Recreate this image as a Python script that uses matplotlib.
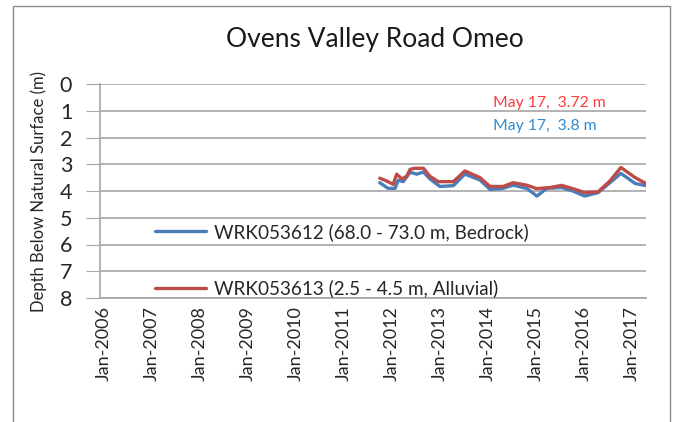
import matplotlib
matplotlib.use("Agg")
import matplotlib.pyplot as plt
import matplotlib.dates as mdates
import matplotlib.transforms as mtransforms
from matplotlib.patches import Rectangle
import pandas as pd

plt.rcParams['font.family'] = ['Lato', 'DejaVu Sans']

# data
blue_dates = ["2011-10-30", "2012-01-01", "2012-02-24", "2012-03-18", "2012-04-26",
              "2012-06-17", "2012-08-07", "2012-09-27", "2012-11-15", "2013-01-30",
              "2013-05-12", "2013-08-08", "2013-12-01", "2014-02-15", "2014-05-26",
              "2014-08-10", "2014-11-24", "2015-02-07", "2015-04-23", "2015-08-15",
              "2015-11-07", "2016-02-06", "2016-05-18", "2016-08-16", "2016-11-07",
              "2017-02-24", "2017-05-17"]
blue_depth = [3.69, 3.90, 3.90, 3.60, 3.65, 3.30, 3.37, 3.29, 3.55, 3.83,
              3.80, 3.37, 3.59, 3.94, 3.90, 3.78, 3.91, 4.19, 3.90, 3.87,
              4.00, 4.19, 4.06, 3.69, 3.34, 3.72, 3.80]

red_dates = ["2011-10-30", "2011-12-10", "2012-02-10", "2012-03-07", "2012-04-16",
             "2012-05-22", "2012-06-17", "2012-07-24", "2012-09-27", "2012-11-15",
             "2013-01-18", "2013-05-12", "2013-08-08", "2013-12-01", "2014-02-15",
             "2014-05-26", "2014-08-10", "2014-11-20", "2015-02-05", "2015-05-17",
             "2015-08-14", "2015-11-07", "2016-02-06", "2016-05-18", "2016-08-16",
             "2016-11-07", "2017-02-24", "2017-05-17"]
red_depth = [3.52, 3.60, 3.75, 3.37, 3.55, 3.45, 3.19, 3.15, 3.15, 3.45,
             3.65, 3.65, 3.25, 3.50, 3.83, 3.83, 3.69, 3.78, 3.91, 3.87,
             3.79, 3.91, 4.06, 4.03, 3.62, 3.12, 3.50, 3.72]

blue_label = "WRK053612 (68.0 - 73.0 m, Bedrock)"
red_label = "WRK053613 (2.5 - 4.5 m, Alluvial)"
blue_note = "May 17,  3.8 m"
red_note = "May 17,  3.72 m"
title = "Ovens Valley Road Omeo"
ylabel = "Depth Below Natural Surface (m)"
year_ticks = list(range(2006, 2018))

W, H = 674, 422
fig = plt.figure(figsize=(W / 100, H / 100), dpi=100)
ax = fig.add_axes([100 / W, 1 - 298 / H, 546 / W, 214 / H])

# chart border
fig.patches.append(Rectangle((13 / W, -0.05), 657 / W, 1.05 - 6 / H,
                             transform=fig.transFigure, fill=False,
                             edgecolor="#8c8c8c", lw=1.0))

bd = pd.to_datetime(blue_dates)
rd = pd.to_datetime(red_dates)
lb, = ax.plot(bd, blue_depth, color="#4a7ebb", lw=2.4, solid_capstyle="round")
lr, = ax.plot(rd, red_depth, color="#be4b48", lw=2.4, solid_capstyle="round")

ax.set_ylim(8, 0)
ax.set_yticks(range(0, 9))
ax.set_xlim(pd.Timestamp("2006-01-01"), rd[-1])
ax.set_xticks([pd.Timestamp(f"{y}-01-01") for y in year_ticks])
ax.xaxis.set_major_formatter(mdates.DateFormatter("Jan-%Y"))
ax.tick_params(axis="x", length=0, labelsize=13, rotation=90, pad=6, colors="#262626")
ax.tick_params(axis="y", length=10, labelsize=15.5, pad=10, colors="#262626")
ax.tick_params(axis="y", color="#a6a6a6")
shift = mtransforms.ScaledTranslation(4 / 100, 0, fig.dpi_scale_trans)
for lbl in ax.get_xticklabels():
    lbl.set_transform(lbl.get_transform() + shift)

ax.grid(axis="y", color="#a6a6a6", lw=1.2)
ax.set_axisbelow(True)
for s in ["top", "right"]:
    ax.spines[s].set_visible(False)
for s in ["left", "bottom"]:
    ax.spines[s].set_color("#a6a6a6")
    ax.spines[s].set_linewidth(1.2)

ax.set_ylabel(ylabel, fontsize=12, color="#262626", labelpad=9)
fig.text(375 / W, 1 - 40 / H, title, ha="center", va="center", fontsize=19, color="#1a1a1a")

fig.text(493 / W, 1 - 103 / H, red_note, color="#ff3b3b", fontsize=11.3, va="center")
fig.text(493 / W, 1 - 126 / H, blue_note, color="#2e8bd0", fontsize=11.3, va="center")

leg = ax.legend([lb, lr], [blue_label, red_label], loc="upper left",
                bbox_to_anchor=(155 / W, 1 - 223 / H), bbox_transform=fig.transFigure,
                frameon=False, fontsize=13.6, handlelength=2.7, handletextpad=0.45,
                labelspacing=2.05, borderpad=0, borderaxespad=0)
for t in leg.get_texts():
    t.set_color("#262626")

fig.savefig("out.png", dpi=100)
